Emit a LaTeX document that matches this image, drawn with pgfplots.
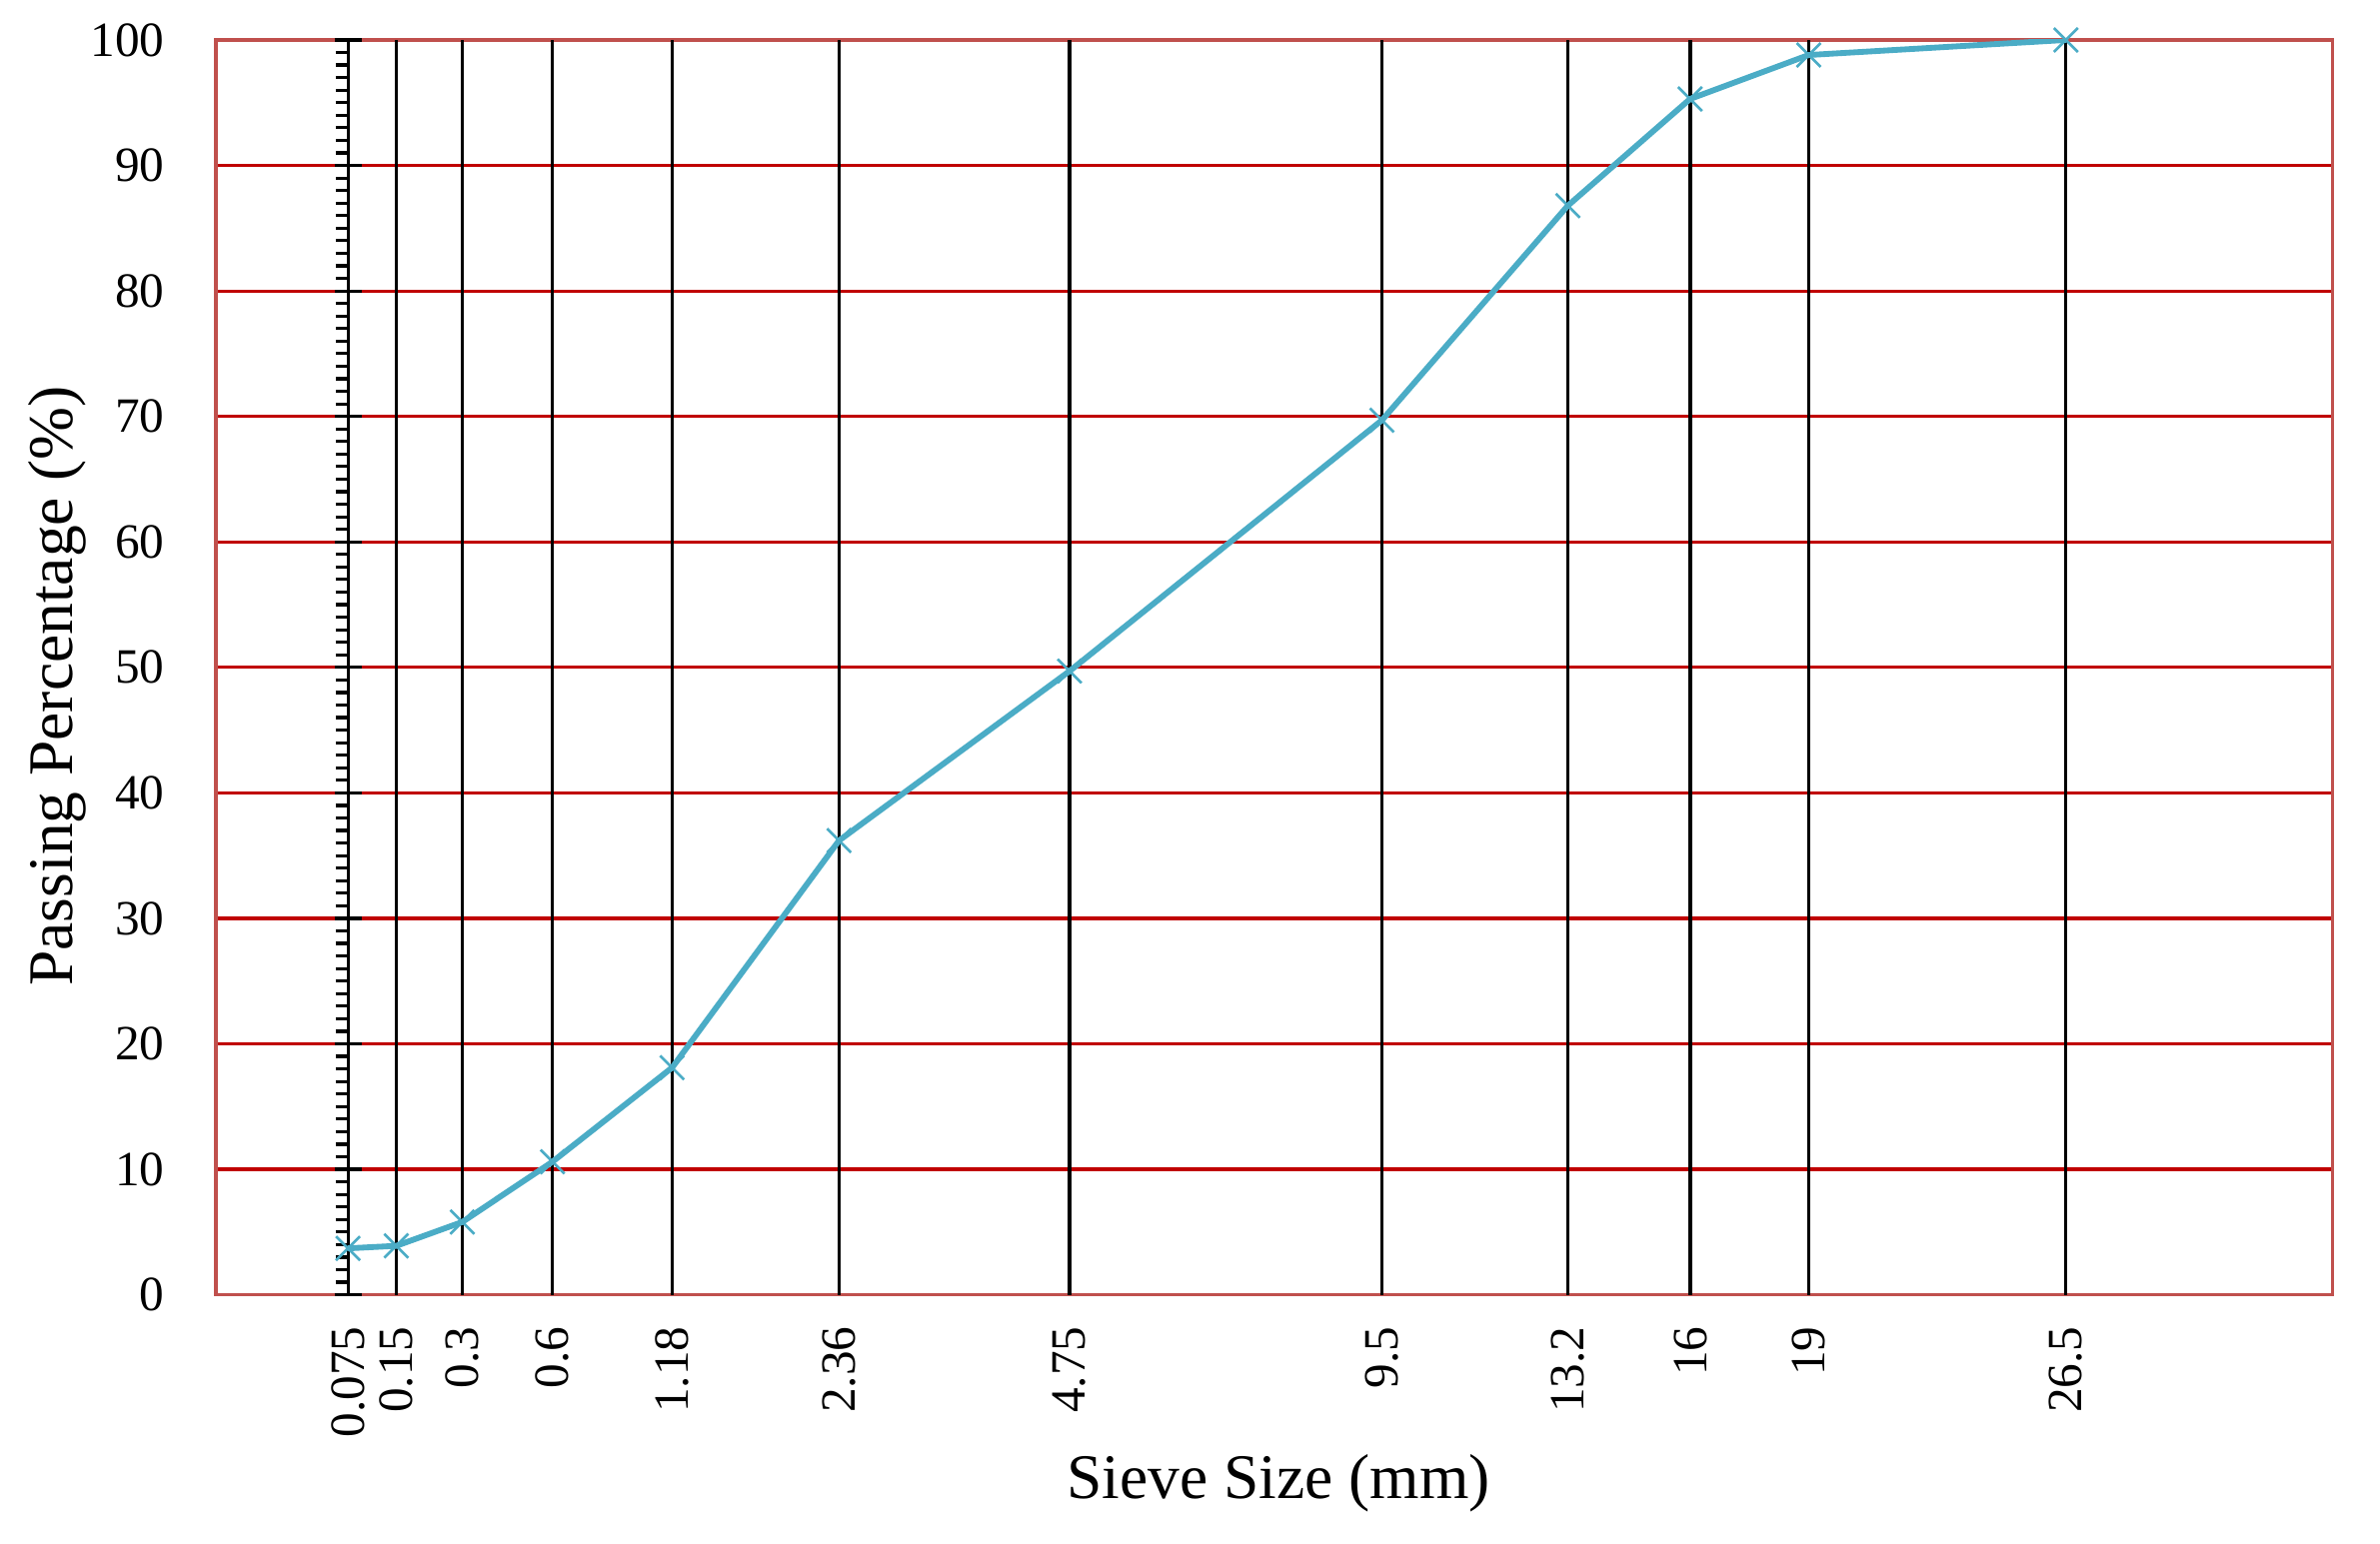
\documentclass[border=0pt]{standalone}
\usepackage{fontspec}
\setmainfont{Liberation Serif}
\usepackage{pgfplots}
\pgfplotsset{compat=1.18}
\usepackage{pgfplotstable}

\definecolor{gridred}{HTML}{C00000}
\definecolor{boxred}{HTML}{C0504D}
\definecolor{curve}{HTML}{4BACC6}

% sieve size (mm) vs passing (%)
\pgfplotstableread{
size pass
0.075 3.7
0.15 3.9
0.3 5.8
0.6 10.6
1.18 18.1
2.36 36.2
4.75 49.7
9.5 69.7
13.2 86.8
16 95.3
19 98.8
26.5 100
}\grading

% x axis is the 0.45 power chart: x = size^0.45, shifted so that 0.075 sits at 0
\pgfplotsset{
  common/.style={
    scale only axis, width=399.9pt, height=237.1pt,
    xmin=-0.31174, xmax=4.68826, ymin=0, ymax=100,
  },
  sieveticks/.style={
    xtick={0,0.11411,0.26997,0.48291,0.76558,1.15993,1.70440,2.44235,2.88161,3.17040,3.45031,4.05789},
  },
}

\begin{document}
\begin{tikzpicture}
% box, red horizontal grid, labels
\begin{axis}[common, sieveticks, name=main,
  axis line style={boxred, line width=0.6pt},
  tick style={draw=none},
  xticklabels={0.075,0.15,0.3,0.6,1.18,2.36,4.75,9.5,13.2,16,19,26.5},
  ytick={0,10,...,100},
  ymajorgrids, y grid style={gridred, line width=0.6pt},
  /pgf/number format/assume math mode=true,
  tick label style={font=\fontsize{9.3}{11}\selectfont},
  xticklabel style={yshift=-2.5pt, rotate=90, anchor=east},
  yticklabel style={xshift=-6.2pt},
  xlabel={Sieve Size (mm)},
  ylabel={Passing Percentage (\%)},
  label style={font=\fontsize{12}{14}\selectfont},
  xlabel style={at={(axis description cs:0.502,-0.1624)}, anchor=base},
  ylabel style={at={(axis description cs:-0.068,0.485)}, anchor=base},
]
\end{axis}

% black vertical lines at the sieve sizes, over the red ones
\begin{axis}[common, sieveticks,
  axis line style={draw=none},
  tick style={draw=none},
  xticklabels={}, ytick=\empty,
  xmajorgrids, x grid style={black, line width=0.6pt},
]
\end{axis}

% y axis line at 0.075 with its ticks, and the curve
\begin{axis}[common,
  axis x line=none, axis y line=center,
  axis line style={-, black, line width=0.6pt},
  ytick={0,10,...,100}, yticklabels={},
  minor y tick num=9,
  tick align=center,
  major tick length=5.1pt, minor tick length=2.3pt,
  tick style={black, line width=0.6pt},
  minor tick style={xshift=-1.15pt},
]
\addplot[curve, line width=1.1pt, mark=x, mark size=3.2pt,
  mark options={line width=0.5pt}]
  table[x expr=\thisrow{size}^0.45-0.31174, y=pass] {\grading};
\end{axis}

\path ([xshift=-40.8pt,yshift=-47pt]main.south west)
  rectangle ([xshift=8.9pt,yshift=7.55pt]main.north east);
\end{tikzpicture}
\end{document}
